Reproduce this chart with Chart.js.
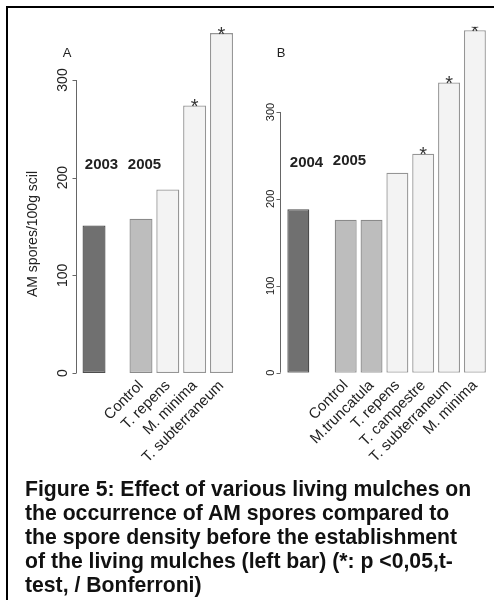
<!DOCTYPE html>
<html>
<head>
<meta charset="utf-8">
<script src="https://cdn.jsdelivr.net/npm/chart.js@4/dist/chart.umd.min.js"></script>
<style>
body { margin: 0; background: #fff; font-family: "Liberation Sans", Arial, sans-serif; }
#wrap { position: relative; width: 494px; height: 600px; overflow: hidden; }
#frame { position: absolute; left: 6px; top: 6px; width: 700px; height: 800px; border-left: 2px solid #000; border-top: 2px solid #000; }
canvas { position: absolute; top: 0; }
#cA { left: 0; }
#cB { left: 247px; }
#caption { position: absolute; left: 25px; top: 477px; font-weight: bold; font-size: 21.2px; line-height: 24px; color: #111; white-space: nowrap; }
</style>
</head>
<body>
<div id="wrap">
  <div id="frame"></div>
  <canvas id="cA" width="250" height="480"></canvas>
  <canvas id="cB" width="247" height="480"></canvas>
  <div id="caption">Figure 5: Effect of various living mulches on<br>the occurrence of AM spores compared to<br>the spore density before the establishment<br>of the living mulches (left bar) (*: p &lt;0,05,t-<br>test, / Bonferroni)</div>
</div>
<script>
// Panel A: spores before (2003) and after (2005)
const catsA = ['Control', 'T. repens', 'M. minima', 'T. subterraneum'];
const beforeA = 151;
const valuesA = [158, 188, 274, 348];
const groupsA = ['control', 'mulch', 'mulch', 'mulch'];
const starsA = [false, false, true, true];
const ticksA = [0, 100, 200, 300];

// Panel B: spores before (2004) and after (2005)
const catsB = ['Control', 'M.truncatula', 'T. repens', 'T. campestre', 'T. subterraneum', 'M. minima'];
const beforeB = 188;
const valuesB = [176, 176, 230, 252, 334, 394];
const groupsB = ['control', 'control', 'mulch', 'mulch', 'mulch', 'mulch'];
const starsB = [false, false, false, true, true, true];
const ticksB = [0, 100, 200, 300];

const FONT = '"Liberation Sans", Arial, sans-serif';
const fills = { before: '#707070', control: '#bdbdbd', mulch: '#f3f3f3' };
const edges = { before: '#4d4d4d', control: '#8a8a8a', mulch: '#959595' };

// R-style axis, stars and free text
const rStyle = {
    id: 'rStyle',
    afterDraw(chart, args, o) {
        const ctx = chart.ctx;
        const y = chart.scales.y;
        const area = chart.chartArea;
        const ax = Math.round(area.left - o.gap) + 0.5;
        ctx.save();
        // axis line from first to last tick
        ctx.strokeStyle = '#666';
        ctx.lineWidth = 1;
        ctx.beginPath();
        const t = y.ticks.map(k => k.value);
        ctx.moveTo(ax, y.getPixelForValue(t[0]));
        ctx.lineTo(ax, y.getPixelForValue(t[t.length - 1]));
        t.forEach(v => {
            const py = Math.round(y.getPixelForValue(v)) + 0.5;
            ctx.moveTo(ax - 4, py);
            ctx.lineTo(ax, py);
        });
        ctx.stroke();
        // tick labels, rotated like R's las=0
        ctx.fillStyle = '#222';
        ctx.font = o.tickSize + 'px ' + FONT;
        ctx.textAlign = 'center';
        ctx.textBaseline = 'middle';
        t.forEach(v => {
            ctx.save();
            ctx.translate(ax - o.labelGap, y.getPixelForValue(v));
            ctx.rotate(-Math.PI / 2);
            ctx.fillText(String(v), 0, 0);
            ctx.restore();
        });
        // axis title
        if (o.title) {
            ctx.save();
            ctx.font = '14px ' + FONT;
            ctx.translate(o.title.x, o.title.y);
            ctx.rotate(-Math.PI / 2);
            ctx.fillText(o.title.text, 0, 0);
            ctx.restore();
        }
        // panel letter
        ctx.font = '13px ' + FONT;
        ctx.fillText(o.letter.text, o.letter.x, o.letter.y);
        // years
        ctx.font = 'bold 15px ' + FONT;
        o.years.forEach(yr => ctx.fillText(yr.text, yr.x, yr.y));
        // significance stars
        ctx.beginPath();
        ctx.rect(area.left - 5, area.top, area.right - area.left + 10, area.bottom - area.top);
        ctx.clip();
        ctx.font = '20px ' + FONT;
        ctx.textBaseline = 'alphabetic';
        ctx.fillStyle = '#333';
        const bars = chart.getDatasetMeta(0).data;
        o.stars.forEach((s, i) => {
            if (!s) return;
            const bar = bars[i + 2];
            ctx.fillText('*', bar.x, bar.y + 7.5);
        });
        ctx.restore();
    }
};

function makePanel(id, cats, before, values, groups, stars, ticks, lay) {
    // two leading slots: the "before" bar and the gap after it
    const labels = ['', ''].concat(cats);
    const data = [null, null].concat(values);
    const keys = ['before', 'before'].concat(groups);
    // the "before" bar sits on its own hidden category axis
    const beforeLabels = new Array(lay.beforeSlots).fill('');
    const beforeData = [before];
    return new Chart(document.getElementById(id), {
        type: 'bar',
        data: {
            labels: labels,
            datasets: [{
                data: data,
                xAxisID: 'x',
                grouped: false,
                backgroundColor: keys.map(k => fills[k]),
                borderColor: keys.map(k => edges[k]),
                borderWidth: 1.3,
                borderSkipped: false,
                categoryPercentage: 1,
                barPercentage: lay.barPct
            }, {
                data: beforeData,
                xAxisID: 'x2',
                grouped: false,
                backgroundColor: fills.before,
                borderColor: edges.before,
                borderWidth: 1.3,
                borderSkipped: false,
                categoryPercentage: 1,
                barPercentage: lay.barPct * lay.beforeSlots / labels.length
            }]
        },
        options: {
            responsive: false,
            animation: false,
            events: [],
            layout: { padding: { top: lay.top, right: lay.right, left: 0, bottom: 0 } },
            plugins: {
                legend: { display: false },
                tooltip: { enabled: false },
                rStyle: {
                    gap: lay.gap, labelGap: lay.labelGap, tickSize: lay.tickSize,
                    title: lay.title, letter: lay.letter, years: lay.years,
                    stars: stars
                }
            },
            scales: {
                x: {
                    grid: { display: false, drawTicks: false },
                    border: { display: false },
                    ticks: {
                        autoSkip: false, minRotation: 45, maxRotation: 45, padding: 4,
                        color: '#222', font: { size: 15, family: FONT }
                    },
                    afterFit: s => { s.height = lay.xHeight; }
                },
                x2: {
                    type: 'category',
                    labels: beforeLabels,
                    display: false,
                    offset: true
                },
                y: {
                    min: 0,
                    max: lay.max,
                    grid: { display: false, drawTicks: false },
                    border: { display: false },
                    ticks: { display: false },
                    afterBuildTicks: s => { s.ticks = ticks.map(v => ({ value: v })); },
                    afterFit: s => { s.width = lay.yWidth; }
                }
            }
        },
        plugins: [rStyle]
    });
}

makePanel('cA', catsA, beforeA, valuesA, groupsA, starsA, ticksA, {
    barPct: 0.857, beforeSlots: 4, top: 21.4, right: 15.1, yWidth: 73.9, xHeight: 107, max: 360,
    gap: -2.5, labelGap: 13.5, tickSize: 14,
    title: { text: 'AM spores/100g scil', x: 33, y: 234 },
    letter: { text: 'A', x: 67, y: 53 },
    years: [{ text: '2003', x: 101.5, y: 165 }, { text: '2005', x: 144.5, y: 165 }]
});

makePanel('cB', catsB, beforeB, valuesB, groupsB, starsB, ticksB, {
    barPct: 0.85, beforeSlots: 6, top: 26.8, right: 6.2, yWidth: 34.1, xHeight: 107.3, max: 398,
    gap: 1.5, labelGap: 10, tickSize: 11,
    title: null,
    letter: { text: 'B', x: 34, y: 53 },
    years: [{ text: '2004', x: 59.5, y: 163 }, { text: '2005', x: 102.5, y: 161 }]
});
</script>
</body>
</html>
